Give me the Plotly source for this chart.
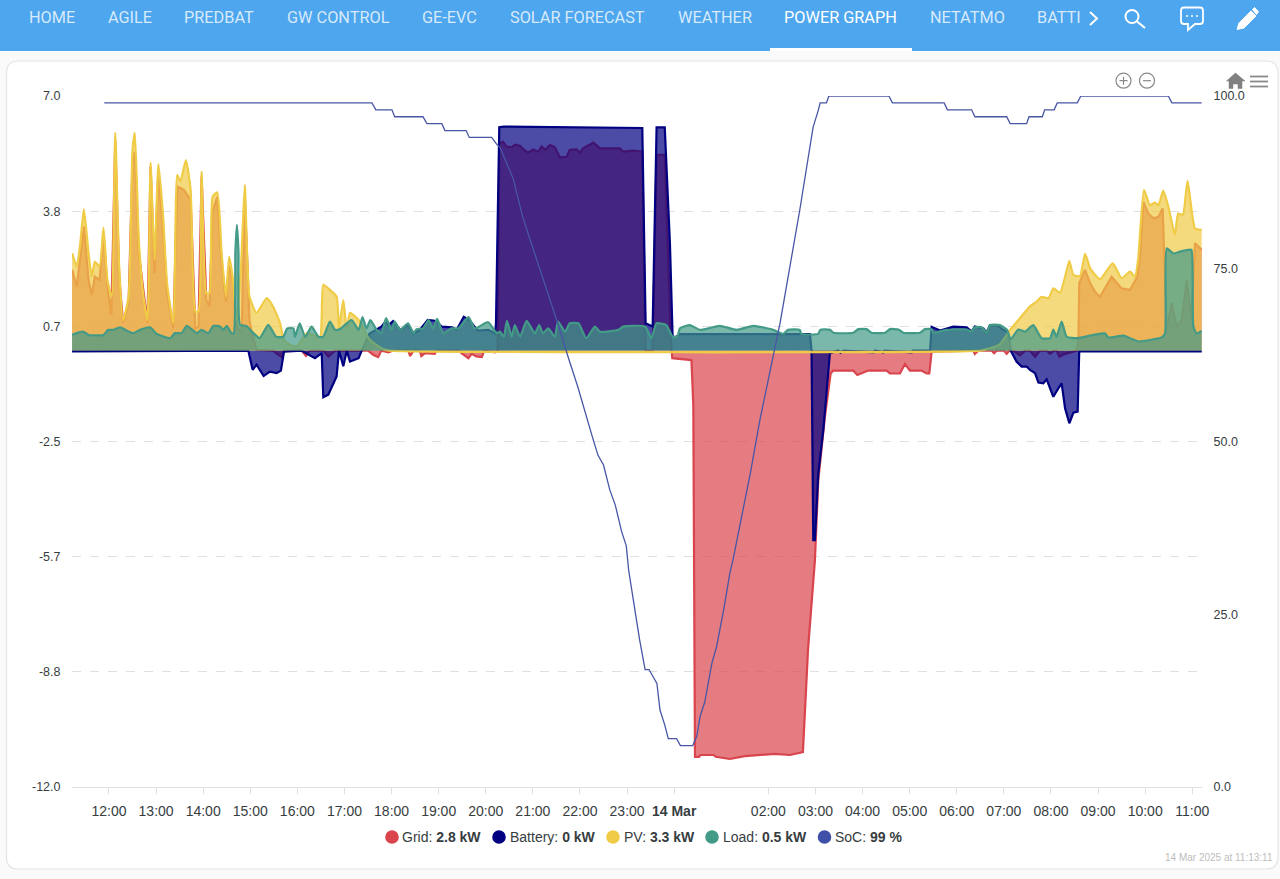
import pandas as pd
import plotly.graph_objects as go

# page size and where the plot sits in it
W = 1280
H = 879
PLOT_L, PLOT_R, PLOT_T, PLOT_B = 72, 1202, 96, 787

# all times are minutes after 13 Mar 12:00
grid_minutes = [-47, -41, -37, -32, -26, -22, -18, -12, -7, -2, 3, 8, 13, 18, 25, 30, 33, 38, 49, 53, 58, 63, 69, 74, 82,
                87, 95.5, 104, 110, 114, 118, 124, 128, 132, 138, 143.5, 149, 153, 157.5, 162.6, 169, 173, 179, 182, 188,
                209, 216, 220, 223, 245.5, 251, 256, 273, 279.5, 288, 330, 337, 343, 347, 356, 362, 381.4, 383.5, 388,
                396, 398, 402.6, 415, 417.5, 445, 449, 457.8, 462, 468, 475, 478, 492, 495,
                497.2, 502, 506.6, 513, 517, 523.6, 528, 534, 540.5, 547, 551, 555.4, 561.8, 568, 574.5, 583, 587, 595.7,
                600, 604, 617, 625.5, 651, 655, 668, 679.4, 683.6, 692.6, 697.6, 708, 716, 717.6, 742, 744.4, 746.5, 751.7,
                753.5, 770, 773, 791, 810, 829, 848, 867.5, 884, 890.5, 899.3, 903.6, 912, 919.3, 922.7, 948, 953.3, 967.3,
                990.6, 995, 1007.6, 1014, 1020.4, 1035, 1041.6, 1045, 1048, 1101, 1103, 1107.5, 1124.5, 1127.4, 1131,
                1140, 1143.6, 1147, 1152, 1160.5, 1167, 1173, 1179.7, 1186, 1194.5, 1198.8, 1204, 1207.3, 1210.7, 1218,
                1233, 1235, 1236, 1243.4, 1250, 1256, 1262.5, 1277.3, 1290, 1300.7, 1307, 1310, 1313.4, 1317.7, 1324,
                1330.4, 1337, 1342.3, 1345.3, 1347.4, 1353.8, 1360, 1366.5, 1373, 1379, 1383.5, 1392]
grid_kw = [2.22, 1.76, 2.49, 3.41, 1.94, 1.53, 2.03, 1.94, 3.18, 1.76, 0.98, 5.75, 2.03, 0.75, 1.3, 5.15, 5.47, 2.68, 0.75, 5.06, 2.13, 4.97, 3.32, 1.58, 0.61,
           4.51, 4.42, 4.14, 0.61, 0.66, 4.78, 1.39, 1.21, 3.82, 4.23, 2.4, 1.35, 2.31, 1.94, 0.66, 0.48, 4.23, 0.84, 0.48, 0.02,
           0, -0.12, -0.18, 0, 0, -0.15, 0, 0, -0.16, 0, 0, -0.12, -0.18, 0, -0.05, 0, 0, -0.15, 0,
           0, -0.15, -0.07, -0.09, 0, 0, -0.07, -0.21, -0.09, -0.16, -0.18, 0, -0.05, 0,
           5.7, 5.74, 5.61, 5.59, 5.66, 5.63, 5.53, 5.44, 5.53, 5.47, 5.61, 5.52, 5.65, 5.59, 5.31, 5.33, 5.52, 5.53,
           5.44, 5.56, 5.72, 5.56, 5.56, 5.47, 5.5, 5.47, 0, 0, 5.38, 5.38, 0.2, -0.21, -0.26, -1.5, -11.17, -11.17,
           -11.12, -11.12, -11.17, -11.23, -11.15, -11.12, -11.09, -11.12, -11.04, -8.23, -5.76, -3.56, -1.82, -0.63, -0.55, -0.55, -0.67, -0.55,
           -0.55, -0.63, -0.63, -0.37, -0.55, -0.55, -0.63, -0.63, -0.03, 0, -0.09, 0, 0, -0.07, 0,
           0, -0.09, 0, 0, -0.13, 0, 0, -0.17, 0, 0, -0.09, 0, 0, -0.17, -0.09,
           0, 0.29, 1.85, 2.22, 1.85, 1.62, 1.48, 2.03, 1.71, 1.67, 1.9, 2.03, 2.58, 4.09, 3.77,
           3.64, 3.68, 3.91, 1.94, 0.57, 1.3, 0.66, 0.84, 1.94, 0.84, 2.95, 2.77]

battery_minutes = [-47, 160, 161, 177.5, 183, 188, 197, 205, 213.6, 219, 223, 245, 262.4, 271, 273, 279.4, 290, 293, 298.5, 303, 307, 318, 322,
                   332, 347, 352, 356, 362, 371, 381, 388, 396, 406, 415, 424, 437, 443, 452, 459, 469.8, 483.3, 492, 493,
                   497.2, 503, 679.4, 683.6, 692.6, 697.6, 708, 714.6, 718, 723, 727.4, 780, 860, 893, 895,
                   897.2, 899.3, 903.6, 910, 918.4, 929, 932, 936, 974, 976, 986.5, 988, 1022.6, 1024, 1046,
                   1048, 1058.7, 1075.6, 1092.6, 1099, 1103, 1114, 1118, 1122.3, 1131, 1139.3, 1145.7, 1148.7,
                   1156.3, 1162.7, 1169, 1173.3, 1179.7, 1184, 1190.3, 1194.5, 1203, 1209.4, 1213.6, 1218, 1223.4, 1228.5, 1234, 1236, 1392]
battery_kw = [-0.02, -0.02, 0, 0, -0.53, -0.39, -0.7, -0.58, -0.62, -0.55, -0.03, 0, -0.21, -0.07, -1.28, -1.21, -0.71, 0, -0.43, 0, -0.3, -0.21, 0,
              0.47, 0.66, 0.79, 0.7, 0.81, 0.57, 0.7, 0.47, 0.57, 0.84, 0.82, 0.66, 0.64, 0.57, 0.93, 0.84, 0.55, 0.57, 0.47, 0.75,
              6.14, 6.16, 6.12, 0.75, 0.66, 6.14, 6.14, 2.95, 0.38, 0.38, 0.45, 0.45, 0.45, 0.45, 0,
              -5.21, -5.21, -3.38, -2.18, -0.07, 0, -0.06, 0, -0.05, 0, -0.05, 0, -0.05, 0, 0,
              0.65, 0.55, 0.66, 0.64, 0.52, 0.66, 0.61, 0.49, 0.7, 0.7, 0.57, 0.52, 0,
              -0.31, -0.44, -0.44, -0.53, -0.62, -0.88, -0.9, -0.79, -1.27, -1.04, -0.9, -1.59, -2.0, -1.71, -1.68, -0.02, -0.02]

pv_minutes = [-47, -41, -37, -32, -26, -22, -18, -12, -7, -2, 3.4, 8, 13, 18, 25, 30, 33, 38, 44, 49, 53, 58, 63, 69, 74, 82,
              87, 91, 98, 104, 110, 114, 118, 124, 128, 132, 138, 143.5, 149, 153, 157.5, 162.6, 168, 173, 179, 188, 201,
              209, 218, 223, 230.6, 239, 252, 260, 269, 273, 281.5, 290, 293, 298.5, 303, 307, 318, 332.5, 349.5, 358,
              1109.6, 1122, 1135, 1148, 1160.5, 1173, 1182, 1188, 1197, 1203, 1211.5, 1218, 1223.4, 1228.5, 1237, 1243.4,
              1250, 1262.5, 1278.6, 1290, 1300.7, 1307, 1311, 1318.5, 1326, 1332.5, 1337, 1343, 1349.5, 1358, 1362, 1368,
              1374, 1383.5, 1392]
pv_kw = [2.68, 2.31, 2.86, 3.89, 2.68, 2.03, 2.45, 2.31, 3.38, 1.94, 1.48, 5.99, 2.31, 0.84, 1.48, 5.52, 5.99, 3.04, 1.48, 0.84, 5.17, 2.49, 5.13, 3.68, 1.85, 0.75,
         4.83, 4.65, 5.24, 4.42, 1.07, 1.07, 4.92, 1.58, 1.58, 4.23, 4.35, 2.68, 1.48, 2.58, 2.03, 0.84, 2.22, 4.56, 1.48, 1.04, 1.44,
         1.21, 0.75, 0.29, 0.16, 0.11, 0.48, 0.43, 0.38, 1.81, 1.67, 1.48, 0.61, 1.39, 0.57, 1.04, 0.84, 0.29, 0.04, 0,
         0, 0.06, 0.18, 0.57, 0.89, 1.21, 1.35, 1.48, 1.44, 1.71, 1.59, 2.03, 2.47, 2.08, 2.05, 2.66,
         2.26, 1.96, 2.4, 1.99, 2.17, 2.03, 2.49, 4.42, 4.0, 4.07, 4.0, 4.4, 3.96, 3.18, 3.77, 3.73,
         4.67, 3.36, 3.32]

load_minutes = [-47, -41, -33, -26, -7, -1, 5.5, 14, 22.5, 31, 39.5, 52, 61, 78, 84, 92.6, 99, 107.5, 112, 118, 126.6, 133, 141.4, 145.7, 150, 156, 159,
                161, 163, 165, 167, 175, 184, 192, 203, 213, 222, 227, 235, 237, 243, 250, 258, 267, 273, 281.5, 288, 294, 309, 318, 323, 328, 333,
                341, 347, 353, 360, 364, 371, 381, 388, 392, 400, 407, 413, 418, 426, 436, 445, 458, 466, 483, 494,
                498, 503, 507, 513, 517, 523.6, 532, 542.6, 548, 553, 559.6, 568, 572, 581, 587, 598, 608, 619, 625.5, 649, 655, 683, 691, 697.6,
                710, 718, 724, 727.4, 740, 753, 778, 799.6, 821, 846, 859, 865, 880, 882, 903.6, 906, 918.5, 923, 948, 954.6, 965, 971.6, 988.6,
                995, 1005.6, 1012, 1033, 1039.5, 1048, 1050, 1067, 1075.6, 1092.6, 1099, 1103, 1112, 1118, 1122.3, 1135, 1143.6, 1148.7, 1158.4,
                1167, 1177.5, 1188, 1198.8, 1203, 1207, 1213.6, 1220, 1232.7, 1254, 1269, 1273, 1292, 1300.7, 1311.3, 1326, 1341, 1345.3, 1347.4,
                1356, 1364.4, 1375, 1379, 1381.4, 1385.6, 1392]
load_kw = [0.43, 0.48, 0.52, 0.43, 0.43, 0.57, 0.57, 0.64, 0.55, 0.48, 0.57, 0.64, 0.46, 0.34, 0.48, 0.48, 0.68, 0.55, 0.48, 0.57, 0.48, 0.68, 0.66, 0.57, 0.68, 0.48, 0.48,
           2.7, 3.46, 2.7, 0.71, 0.68, 0.48, 0.34, 0.71, 0.38, 0.38, 0.61, 0.61, 0.38, 0.75, 0.37, 0.66, 0.38, 0.38, 0.8, 0.57, 0.59, 0.84, 0.57, 0.92, 0.61, 0.84,
           0.57, 0.48, 0.89, 0.57, 0.8, 0.57, 0.75, 0.48, 0.59, 0.61, 0.84, 0.61, 0.87, 0.48, 0.61, 0.61, 0.92, 0.61, 0.78, 0.48,
           0.52, 0.38, 0.82, 0.38, 0.7, 0.38, 0.82, 0.47, 0.7, 0.47, 0.61, 0.38, 0.8, 0.52, 0.75, 0.75, 0.34, 0.66, 0.52, 0.57, 0.66, 0.66, 0.34, 0.75,
           0.7, 0.38, 0.38, 0.61, 0.7, 0.57, 0.68, 0.57, 0.68, 0.57, 0.46, 0.57, 0.57, 0.46, 0.46, 0.57, 0.57, 0.49, 0.49, 0.59, 0.59, 0.49, 0.49,
           0.59, 0.58, 0.49, 0.49, 0.59, 0.59, 0.49, 0.57, 0.58, 0.58, 0.52, 0.64, 0.64, 0.49, 0.7, 0.7, 0.58, 0.31, 0.58,
           0.52, 0.7, 0.34, 0.34, 0.58, 0.38, 0.8, 0.38, 0.34, 0.43, 0.47, 0.36, 0.41, 0.34, 0.25, 0.29, 0.36, 0.47, 2.81,
           2.67, 2.72, 2.77, 2.77, 0.66, 0.47, 0.54]

soc_minutes = [-6, 335, 340, 360.5, 364, 400, 405, 424, 428, 455, 459, 487.5, 494, 498, 515, 527, 540, 558, 572, 585, 597, 617, 623, 630, 638, 645,
               653, 659, 662, 666, 670, 676, 683, 688, 698, 702, 708, 712.5, 723, 728, 743.6, 748.7, 753, 759, 768, 774, 783, 791, 795, 817, 829,
               848, 855, 880, 897, 903, 906, 914, 917, 993.6, 998, 1064, 1068, 1099, 1103, 1143.6, 1148, 1169, 1172, 1189, 1192, 1204, 1208,
               1233.5, 1238, 1349.5, 1354, 1392]
soc_pct = [99, 99, 98, 98, 97, 97, 96, 96, 95, 95, 94, 94, 93, 92.6, 88, 82.5, 78, 72, 67, 62.2, 58, 50.2, 48, 46.6, 43, 40.8,
           37, 34.9, 31.4, 28.5, 25.6, 21.3, 17, 17, 15, 11.1, 9, 7, 7, 6, 6, 7.3, 10.2, 12.3, 17.9, 20.3, 25.6, 31, 32.9, 45.4, 53,
           63.2, 67.2, 83.5, 95.5, 97.7, 99, 99, 100, 100, 99, 99, 98, 98, 97, 97, 96, 96, 97, 97, 98, 98, 99,
           99, 100, 100, 99, 99]

power_ticks = [7.0, 3.83, 0.67, -2.5, -5.67, -8.83, -12.0]
power_tick_text = ["7.0", "3.8", "0.7", "-2.5", "-5.7", "-8.8", "-12.0"]
soc_ticks = [0, 25, 50, 75, 100]
# hours after 12:00; there is no 01:00 tick in the picture
tick_hours = [0, 1, 2, 3, 4, 5, 6, 7, 8, 9, 10, 11, 12, 14, 15, 16, 17, 18, 19, 20, 21, 22, 23]
tick_labels = ["12:00", "13:00", "14:00", "15:00", "16:00", "17:00", "18:00", "19:00", "20:00", "21:00", "22:00", "23:00", "<b>14 Mar</b>",
               "02:00", "03:00", "04:00", "05:00", "06:00", "07:00", "08:00", "09:00", "10:00", "11:00"]

legend_names = ["Grid", "Battery", "PV", "Load", "SoC"]
legend_values = ["2.8 kW", "0 kW", "3.3 kW", "0.5 kW", "99 %"]
nav_items = ["HOME", "AGILE", "PREDBAT", "GW CONTROL", "GE-EVC", "SOLAR FORECAST", "WEATHER", "POWER GRAPH", "NETATMO", "BATTI"]

COLORS = {"Grid": "217,68,77", "Battery": "0,0,128", "PV": "240,203,70", "Load": "66,154,135", "SoC": "64,80,168"}
BAR_BLUE = "#4da6ee"
FONT = "Liberation Sans"

base = pd.Timestamp("2025-03-13 12:00")


def to_time(minutes):
    return base + pd.to_timedelta(minutes, unit="min")


# helpers to place the page furniture, given in pixels from the top left
def fx(px):
    return px / W


def fy(py):
    return 1 - py / H


def path(cmds):
    out = ""
    for c in cmds:
        nums = c[1:]
        pts = [f"{fx(nums[i]):.5f},{fy(nums[i + 1]):.5f}" for i in range(0, len(nums), 2)]
        out += c[0] + " ".join(pts) + " "
    return out.strip()


def rect(x0, y0, x1, y1, color):
    return dict(type="rect", xref="paper", yref="paper", x0=fx(x0), x1=fx(x1), y0=fy(y0), y1=fy(y1),
                fillcolor=color, line_width=0, layer="below")


def circle(cx, cy, r, fill="rgba(0,0,0,0)", line=None, width=1.5):
    return dict(type="circle", xref="paper", yref="paper", x0=fx(cx - r), x1=fx(cx + r), y0=fy(cy + r), y1=fy(cy - r),
                fillcolor=fill, line=dict(color=line or "rgba(0,0,0,0)", width=width if line else 0))


def stroke(cmds, color, width=1.5, fill="rgba(0,0,0,0)"):
    return dict(type="path", xref="paper", yref="paper", path=path(cmds), line=dict(color=color, width=width), fillcolor=fill)


def label(px, py, text, size, color, anchor="left", family=FONT):
    return dict(xref="paper", yref="paper", x=fx(px), y=fy(py), text=text, showarrow=False, xanchor=anchor, yanchor="middle",
                font=dict(family=family, size=size, color=color), borderpad=0, borderwidth=0)


fig = go.Figure()


def add_area(name, minutes, values, smooth=False):
    rgb = COLORS[name]
    line = dict(color=f"rgb({rgb})", width=2.2)
    if smooth:
        line.update(shape="spline", smoothing=0.5)
    fig.add_trace(go.Scatter(x=to_time(minutes), y=values, name=name, mode="lines", fill="tozeroy",
                             line=line, fillcolor=f"rgba({rgb},0.7)"))


add_area("Grid", grid_minutes, grid_kw)
add_area("Battery", battery_minutes, battery_kw)
add_area("PV", pv_minutes, pv_kw, smooth=True)
add_area("Load", load_minutes, load_kw, smooth=True)
fig.add_trace(go.Scatter(x=to_time(soc_minutes), y=soc_pct, name="SoC", mode="lines", yaxis="y2",
                         line=dict(color="rgb(72,86,165)", width=1.3)))

shapes = []
# page: card behind the chart, blue bar on top
shapes.append(dict(type="path", xref="paper", yref="paper", layer="below", fillcolor="white",
                   line=dict(color="#e4e4e4", width=1.2),
                   path=path([("M", 6.5, 73), ("Q", 6.5, 61, 18.5, 61), ("L", 1266, 61), ("Q", 1278, 61, 1278, 73),
                              ("L", 1278, 857), ("Q", 1278, 869, 1266, 869), ("L", 18.5, 869), ("Q", 6.5, 869, 6.5, 857), ("Z",)])))
shapes.append(rect(0, 0, W, 51, BAR_BLUE))
shapes.append(rect(770, 48, 912, 51, "white"))

# bar icons
shapes.append(stroke([("M", 1090, 12), ("L", 1097, 18.5), ("L", 1090, 25)], "white", 2))
shapes.append(circle(1132, 16.5, 6.5, line="white", width=2))
shapes.append(stroke([("M", 1137, 21.5), ("L", 1145, 28)], "white", 2.2))
shapes.append(stroke([("M", 1184, 7.5), ("L", 1200, 7.5), ("Q", 1203, 7.5, 1203, 10.5), ("L", 1203, 21), ("Q", 1203, 24, 1200, 24),
                      ("L", 1195, 24), ("L", 1188, 30), ("L", 1188, 24), ("L", 1184, 24), ("Q", 1181, 24, 1181, 21),
                      ("L", 1181, 10.5), ("Q", 1181, 7.5, 1184, 7.5), ("Z",)], "white", 1.8))
for dot_x in [1187, 1192, 1197]:
    shapes.append(circle(dot_x, 16, 1, fill="white"))
shapes.append(stroke([("M", 1237, 29.5), ("L", 1239, 23), ("L", 1251, 11), ("L", 1256, 16), ("L", 1244, 28), ("Z",)], "white", 1, fill="white"))
shapes.append(stroke([("M", 1252.5, 9.5), ("L", 1254.5, 7.5), ("L", 1258.5, 11.5), ("L", 1256.5, 14.5), ("Z",)], "white", 1, fill="white"))

# chart toolbar icons
TOOL_GREY = "#8a8a8a"
shapes.append(circle(1123.5, 80.7, 7.5, line=TOOL_GREY, width=1.2))
shapes.append(circle(1147, 80.7, 7.5, line=TOOL_GREY, width=1.2))
shapes.append(stroke([("M", 1119.5, 80.7), ("L", 1127.5, 80.7), ("M", 1123.5, 76.7), ("L", 1123.5, 84.7)], TOOL_GREY, 1.2))
shapes.append(stroke([("M", 1143, 80.7), ("L", 1151, 80.7)], TOOL_GREY, 1.2))
shapes.append(stroke([("M", 1226.5, 81), ("L", 1235.5, 73), ("L", 1245, 81), ("L", 1242, 81), ("L", 1242, 88.5), ("L", 1238, 88.5),
                      ("L", 1238, 84), ("L", 1233, 84), ("L", 1233, 88.5), ("L", 1229, 88.5), ("L", 1229, 81), ("Z",)], "#808080", 0.5, fill="#808080"))
for line_y in [76.5, 81.5, 86.5]:
    shapes.append(stroke([("M", 1250, line_y), ("L", 1268, line_y)], TOOL_GREY, 1.8))

# legend swatches
legend_dot_x = [392, 499, 613, 712, 824.5]
legend_text_x = [402, 509.5, 623.6, 723, 835]
for name, dot_x in zip(legend_names, legend_dot_x):
    shapes.append(circle(dot_x, 837, 6.8, fill=f"rgb({COLORS[name]})"))

annotations = []
nav_x = [29, 108, 184, 287, 422, 510, 678, 784, 930, 1037]
for item, item_x in zip(nav_items, nav_x):
    colour = "white" if item == "POWER GRAPH" else "rgba(255,255,255,0.78)"
    annotations.append(label(item_x, 18, item, 16.3, colour, family="Roboto"))
for name, value, text_x in zip(legend_names, legend_values, legend_text_x):
    annotations.append(label(text_x, 837, f"{name}: <b>{value}</b>", 14, "#373d3f"))
annotations.append(label(1273, 857.5, "14 Mar 2025 at 11:13:11", 10, "#bdbdbd", anchor="right"))

fig.update_layout(
    width=W,
    height=H,
    autosize=False,
    margin=dict(l=0, r=0, t=0, b=0, pad=0),
    paper_bgcolor="#fafafa",
    plot_bgcolor="rgba(0,0,0,0)",
    showlegend=False,
    font=dict(family=FONT, color="#373d3f"),
    shapes=shapes,
    annotations=annotations,
    xaxis=dict(
        type="date",
        domain=[fx(PLOT_L), fx(PLOT_R)],
        range=[to_time(-47.1), to_time(1392.4)],
        tickmode="array",
        tickvals=[to_time(h * 60) for h in tick_hours],
        ticktext=tick_labels,
        tickfont=dict(size=14),
        tickangle=0,
        ticks="outside",
        ticklen=6,
        tickcolor="#e0e0e0",
        ticklabelstandoff=5,
        showline=True,
        linecolor="#e0e0e0",
        showgrid=False,
        zeroline=False,
        automargin=False,
        anchor="y",
    ),
    yaxis=dict(
        domain=[fy(PLOT_B), fy(PLOT_T)],
        range=[-12, 7],
        tickmode="array",
        tickvals=power_ticks,
        ticktext=power_tick_text,
        tickfont=dict(size=12.5),
        ticks="outside",
        ticklen=8,
        tickcolor="rgba(0,0,0,0)",
        showgrid=True,
        gridcolor="#e0e0e0",
        griddash="dash",
        zeroline=False,
        automargin=False,
    ),
    yaxis2=dict(
        overlaying="y",
        side="right",
        range=[0, 100],
        tickmode="array",
        tickvals=soc_ticks,
        ticktext=[f"{v:.1f}" for v in soc_ticks],
        tickfont=dict(size=12.5),
        ticks="outside",
        ticklen=8,
        tickcolor="rgba(0,0,0,0)",
        showgrid=False,
        zeroline=False,
        automargin=False,
    ),
)

fig.write_html("out.html", config={"displayModeBar": False},
               post_script="document.body.style.margin='0';document.body.style.overflow='hidden';")
